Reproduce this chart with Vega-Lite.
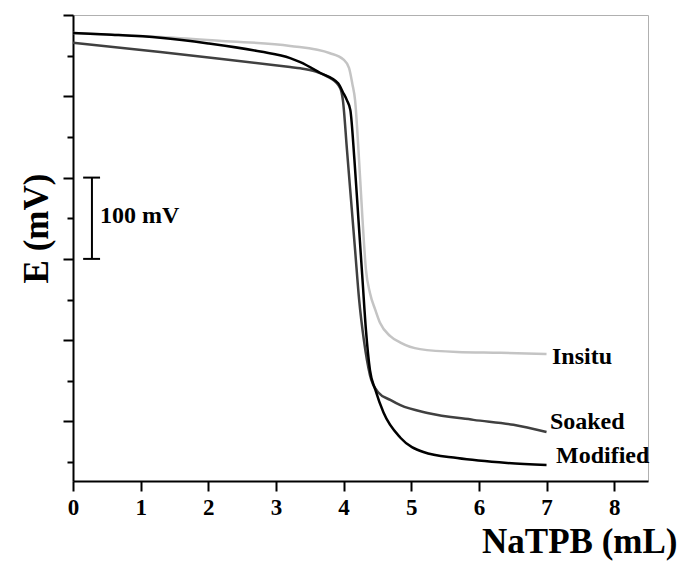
{
  "$schema": "https://vega.github.io/schema/vega-lite/v6.json",
  "width": 575,
  "height": 466,
  "autosize": {"type": "none"},
  "padding": {"left": 73, "top": 15, "right": 33, "bottom": 82},
  "background": "white",
  "config": {
    "view": {"stroke": "#b0b0b0", "strokeWidth": 1},
    "font": "Liberation Serif"
  },
  "datasets": {
    "curves": [
      {"series": "Insitu", "x": 0, "v": 578},
      {"series": "Insitu", "x": 0.5, "v": 576},
      {"series": "Insitu", "x": 1.29, "v": 573},
      {"series": "Insitu", "x": 2.2, "v": 568},
      {"series": "Insitu", "x": 3.21, "v": 562},
      {"series": "Insitu", "x": 3.8, "v": 553},
      {"series": "Insitu", "x": 4.0, "v": 545},
      {"series": "Insitu", "x": 4.08, "v": 535},
      {"series": "Insitu", "x": 4.13, "v": 515},
      {"series": "Insitu", "x": 4.17, "v": 495},
      {"series": "Insitu", "x": 4.22, "v": 434},
      {"series": "Insitu", "x": 4.28, "v": 348},
      {"series": "Insitu", "x": 4.33, "v": 287},
      {"series": "Insitu", "x": 4.39, "v": 258},
      {"series": "Insitu", "x": 4.47, "v": 237},
      {"series": "Insitu", "x": 4.54, "v": 221},
      {"series": "Insitu", "x": 4.69, "v": 205},
      {"series": "Insitu", "x": 4.84, "v": 197},
      {"series": "Insitu", "x": 5.13, "v": 189},
      {"series": "Insitu", "x": 5.68, "v": 185.5},
      {"series": "Insitu", "x": 6.32, "v": 184.5},
      {"series": "Insitu", "x": 7.0, "v": 183},
      {"series": "Soaked", "x": 0, "v": 566},
      {"series": "Soaked", "x": 1.29, "v": 554.5},
      {"series": "Soaked", "x": 2.2, "v": 546},
      {"series": "Soaked", "x": 3.21, "v": 536},
      {"series": "Soaked", "x": 3.36, "v": 534.5},
      {"series": "Soaked", "x": 3.8, "v": 522.5},
      {"series": "Soaked", "x": 3.95, "v": 510},
      {"series": "Soaked", "x": 3.99, "v": 495},
      {"series": "Soaked", "x": 4.05, "v": 434},
      {"series": "Soaked", "x": 4.11, "v": 372.5},
      {"series": "Soaked", "x": 4.17, "v": 311},
      {"series": "Soaked", "x": 4.23, "v": 249.5},
      {"series": "Soaked", "x": 4.3, "v": 200},
      {"series": "Soaked", "x": 4.39, "v": 157},
      {"series": "Soaked", "x": 4.51, "v": 136},
      {"series": "Soaked", "x": 4.69, "v": 126.5},
      {"series": "Soaked", "x": 4.84, "v": 120},
      {"series": "Soaked", "x": 5.24, "v": 110.5},
      {"series": "Soaked", "x": 5.92, "v": 102},
      {"series": "Soaked", "x": 6.51, "v": 96},
      {"series": "Soaked", "x": 7.0, "v": 87},
      {"series": "Modified", "x": 0, "v": 578},
      {"series": "Modified", "x": 0.5, "v": 576},
      {"series": "Modified", "x": 1.29, "v": 572},
      {"series": "Modified", "x": 2.0, "v": 565},
      {"series": "Modified", "x": 2.77, "v": 555},
      {"series": "Modified", "x": 3.21, "v": 547},
      {"series": "Modified", "x": 3.36, "v": 542},
      {"series": "Modified", "x": 3.65, "v": 529},
      {"series": "Modified", "x": 3.92, "v": 516},
      {"series": "Modified", "x": 3.99, "v": 505},
      {"series": "Modified", "x": 4.05, "v": 495},
      {"series": "Modified", "x": 4.1, "v": 483},
      {"series": "Modified", "x": 4.16, "v": 422},
      {"series": "Modified", "x": 4.22, "v": 348},
      {"series": "Modified", "x": 4.28, "v": 274},
      {"series": "Modified", "x": 4.33, "v": 213},
      {"series": "Modified", "x": 4.39, "v": 163},
      {"series": "Modified", "x": 4.47, "v": 139},
      {"series": "Modified", "x": 4.59, "v": 111},
      {"series": "Modified", "x": 4.84, "v": 80},
      {"series": "Modified", "x": 5.18, "v": 62.5},
      {"series": "Modified", "x": 5.68, "v": 55},
      {"series": "Modified", "x": 6.42, "v": 49},
      {"series": "Modified", "x": 7.0, "v": 46.5}
    ],
    "labels": [
      {"series": "Insitu", "x": 7.08, "v": 179},
      {"series": "Soaked", "x": 7.05, "v": 99},
      {"series": "Modified", "x": 7.14, "v": 58}
    ],
    "bar": [
      {"part": "stem", "x": 0.28, "x2": 0.28, "v": 300, "v2": 400},
      {"part": "capLow", "x": 0.15, "x2": 0.4, "v": 300, "v2": 300},
      {"part": "capHigh", "x": 0.15, "x2": 0.4, "v": 400, "v2": 400}
    ],
    "barLabel": [
      {"text": "100 mV", "x": 0.4, "v": 353}
    ]
  },
  "layer": [
    {
      "data": {"name": "curves"},
      "mark": {"type": "line", "strokeWidth": 2.5, "interpolate": "monotone"},
      "encoding": {
        "x": {
          "field": "x", "type": "quantitative",
          "scale": {"domain": [0, 8.5], "nice": false, "zero": false},
          "axis": {
            "title": "NaTPB (mL)",
            "values": [0, 0.5, 1, 1.5, 2, 2.5, 3, 3.5, 4, 4.5, 5, 5.5, 6, 6.5, 7, 7.5, 8, 8.5],
            "labelExpr": "datum.value % 1 === 0 ? format(datum.value, 'd') : ''",
            "labelFont": "Liberation Serif",
            "labelFontWeight": "bold",
            "labelFontSize": 23,
            "labelColor": "black",
            "labelPadding": 5,
            "labelOverlap": false,
            "labelFlush": false,
            "domainColor": "black",
            "domainWidth": 2,
            "tickColor": "black",
            "tickWidth": 2,
            "tickSize": {"condition": {"test": "datum.value % 1 === 0", "value": 10}, "value": 6},
            "grid": false,
            "titleFont": "Liberation Serif",
            "titleFontWeight": "bold",
            "titleFontSize": 35,
            "titleColor": "black",
            "titleAnchor": "end",
            "titleAlign": "right",
            "titleBaseline": "alphabetic",
            "titleX": 604,
            "titleY": 71
          }
        },
        "y": {
          "field": "v", "type": "quantitative",
          "scale": {"domain": [26.8, 600], "nice": false, "zero": false},
          "axis": {
            "title": "E (mV)",
            "values": [50, 100, 150, 200, 250, 300, 350, 400, 450, 500, 550, 600],
            "labels": false,
            "domainColor": "black",
            "domainWidth": 2,
            "tickColor": "black",
            "tickWidth": 2,
            "tickSize": {"condition": {"test": "datum.value % 100 === 0", "value": 10}, "value": 6},
            "grid": false,
            "titleFont": "Liberation Serif",
            "titleFontWeight": "bold",
            "titleFontSize": 35,
            "titleColor": "black",
            "titleAngle": 270,
            "titleAlign": "center",
            "titleBaseline": "alphabetic",
            "titleX": -26,
            "titleY": 213
          }
        },
        "color": {
          "field": "series", "type": "nominal",
          "scale": {"domain": ["Insitu", "Soaked", "Modified"], "range": ["#c4c4c4", "#404040", "#000000"]},
          "legend": null
        },
        "order": {"field": "x", "type": "quantitative"}
      }
    },
    {
      "data": {"name": "labels"},
      "mark": {"type": "text", "align": "left", "baseline": "middle", "font": "Liberation Serif", "fontWeight": "bold", "fontSize": 24, "color": "black"},
      "encoding": {
        "x": {"field": "x", "type": "quantitative"},
        "y": {"field": "v", "type": "quantitative"},
        "text": {"field": "series"}
      }
    },
    {
      "data": {"name": "bar"},
      "mark": {"type": "rule", "strokeWidth": 2, "color": "black"},
      "encoding": {
        "x": {"field": "x", "type": "quantitative"},
        "x2": {"field": "x2"},
        "y": {"field": "v", "type": "quantitative"},
        "y2": {"field": "v2"}
      }
    },
    {
      "data": {"name": "barLabel"},
      "mark": {"type": "text", "align": "left", "baseline": "middle", "font": "Liberation Serif", "fontWeight": "bold", "fontSize": 24, "color": "black"},
      "encoding": {
        "x": {"field": "x", "type": "quantitative"},
        "y": {"field": "v", "type": "quantitative"},
        "text": {"field": "text"}
      }
    }
  ]
}
